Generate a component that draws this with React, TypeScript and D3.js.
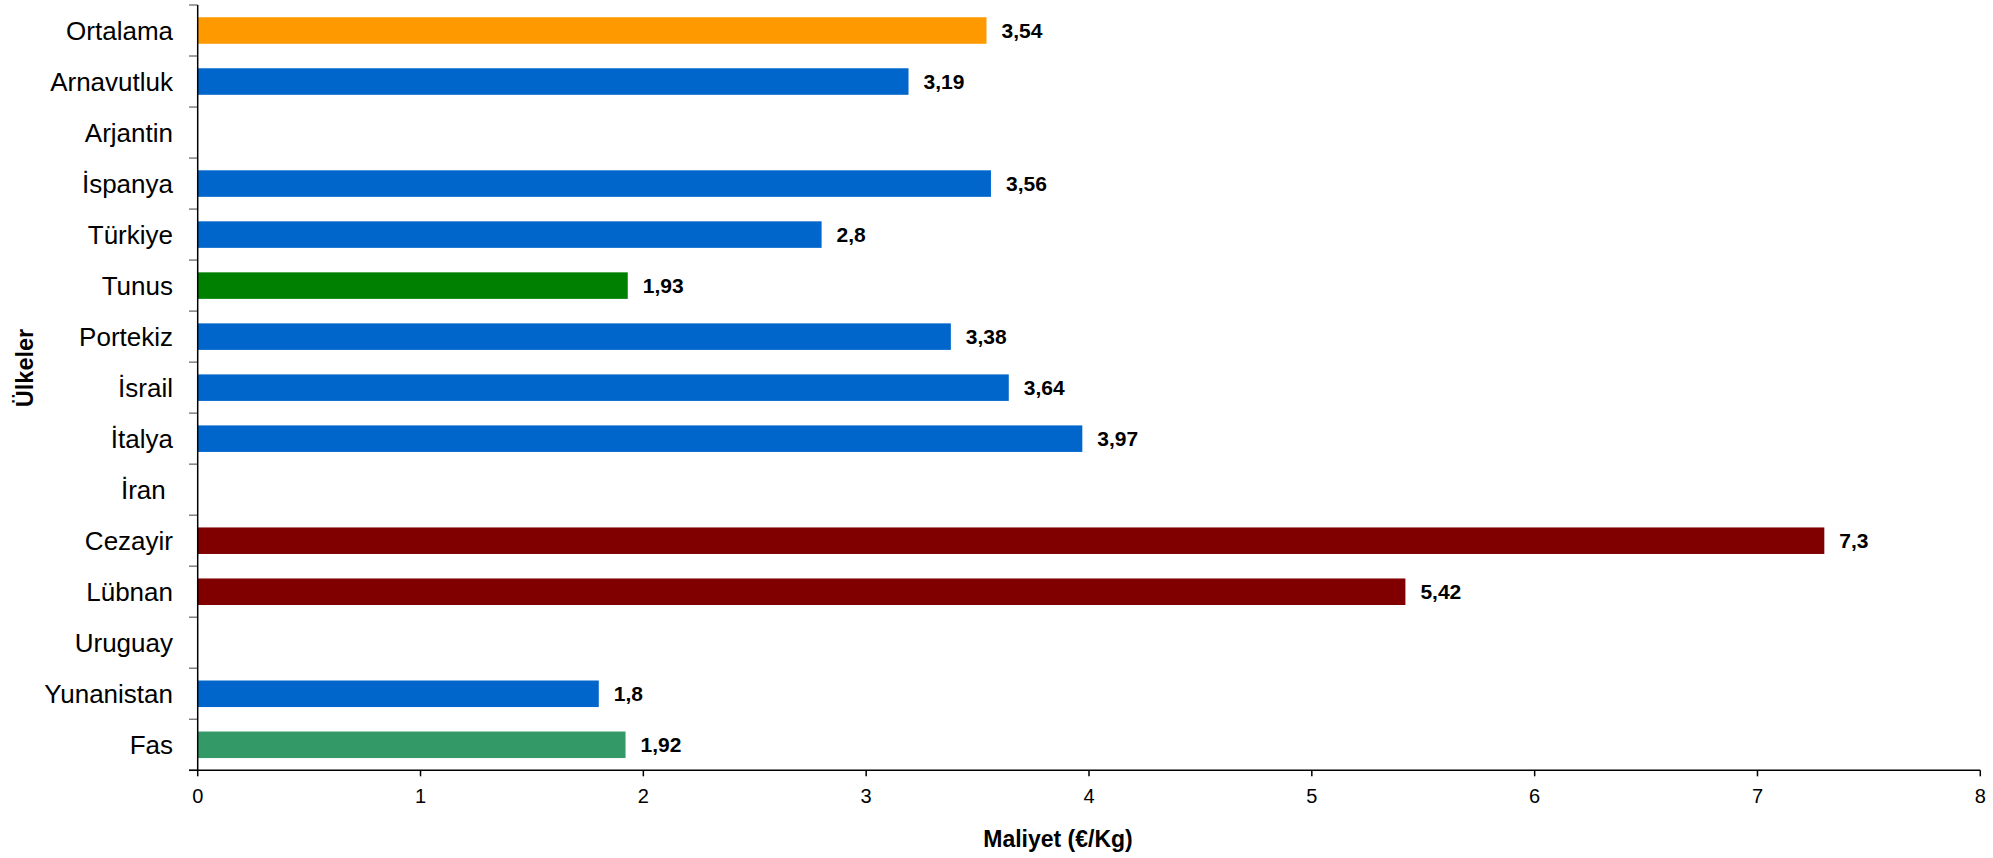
import React from "react";
import * as d3 from "d3";

const categories = [
  "Ortalama", "Arnavutluk", "Arjantin", "İspanya", "Türkiye", "Tunus", "Portekiz",
  "İsrail", "İtalya", "İran ", "Cezayir", "Lübnan", "Uruguay", "Yunanistan", "Fas",
];
const values: (number | null)[] = [
  3.54, 3.19, null, 3.56, 2.8, 1.93, 3.38, 3.64, 3.97, null, 7.3, 5.42, null, 1.8, 1.92,
];
const barColors = [
  "#FF9900", "#0066CC", "#0066CC", "#0066CC", "#0066CC", "#008000", "#0066CC",
  "#0066CC", "#0066CC", "#0066CC", "#800000", "#800000", "#0066CC", "#0066CC", "#339966",
];
const xTicks = [0, 1, 2, 3, 4, 5, 6, 7, 8];
const xTitle = "Maliyet (€/Kg)";
const yTitle = "Ülkeler";

const W = 1993;
const H = 858;
const left = 197.7;
const right = 1980.3;
const top = 5;
const bottom = 770.3;
const font = "'Liberation Sans', Arial, sans-serif";

export default function App() {
  const x = d3.scaleLinear().domain([0, 8]).range([left, right]);
  const y = d3.scaleBand<string>().domain(categories).range([top, bottom]).paddingInner(0.48).paddingOuter(0.24);
  const step = y.step();
  const fmt = (v: number) => String(v).replace(".", ",");
  const boundaries = d3.range(categories.length + 1).map((i) => top + i * step);

  return (
    <svg width={W} height={H} style={{ position: "absolute", left: 0, top: 0, background: "#fff" }}>
      {categories.map((c, i) => {
        const v = values[i];
        if (v == null) return null;
        return (
          <rect key={c} x={x(0)} y={y(c)!} width={x(v) - x(0)} height={y.bandwidth()} fill={barColors[i]} />
        );
      })}
      {categories.map((c, i) => {
        const v = values[i];
        if (v == null) return null;
        return (
          <text key={"v" + c} x={x(v) + 15} y={y(c)! + y.bandwidth() / 2} dy="0.36em"
            fontFamily={font} fontSize={21} fontWeight="bold" fill="#000">
            {fmt(v)}
          </text>
        );
      })}
      {/* y axis */}
      {boundaries.map((b, i) => (
        <line key={"yt" + i} x1={189} x2={left} y1={b} y2={b} stroke="#808080" strokeWidth={1.5} />
      ))}
      <line x1={left} x2={left} y1={top} y2={bottom} stroke="#000" strokeWidth={1.5} />
      {categories.map((c) => (
        <text key={"c" + c} x={173} y={y(c)! + y.bandwidth() / 2} dy="0.36em" textAnchor="end"
          fontFamily={font} fontSize={26} fill="#000" style={{ whiteSpace: "pre" }}>
          {c}
        </text>
      ))}
      {/* x axis */}
      <line x1={189} x2={right} y1={bottom} y2={bottom} stroke="#000" strokeWidth={1.5} />
      {xTicks.map((t) => (
        <g key={"xt" + t}>
          <line x1={x(t)} x2={x(t)} y1={bottom} y2={bottom + 6} stroke="#000" strokeWidth={1.5} />
          <text x={x(t)} y={803} textAnchor="middle" fontFamily={font} fontSize={20} fill="#000">
            {t}
          </text>
        </g>
      ))}
      <text x={1058} y={847} textAnchor="middle" fontFamily={font} fontSize={23} fontWeight="bold" fill="#000">
        {xTitle}
      </text>
      <text transform={`translate(33,368) rotate(-90)`} textAnchor="middle" fontFamily={font}
        fontSize={23.5} fontWeight="bold" fill="#000">
        {yTitle}
      </text>
    </svg>
  );
}
